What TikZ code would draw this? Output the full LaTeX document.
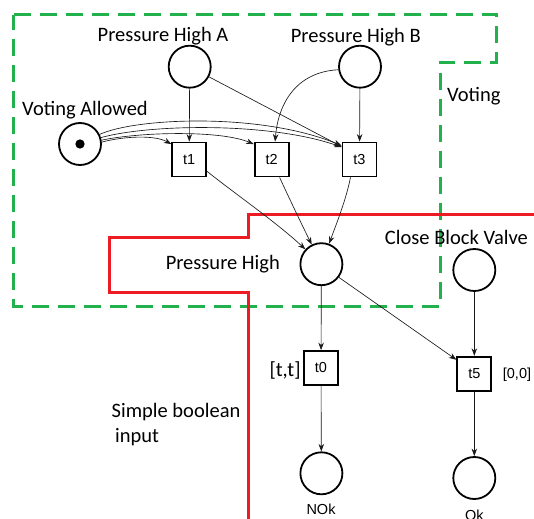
\documentclass[tikz,border=0pt]{standalone}
\usepackage{fontspec}
\setmainfont{Carlito}
\newfontfamily\arialfont{Liberation Sans}
\usetikzlibrary{arrows.meta}
\definecolor{votegreen}{RGB}{34,177,76}
\definecolor{boolred}{RGB}{237,28,36}

\begin{document}
\begin{tikzpicture}[x=1pt,y=-1pt,
  place/.style={circle,draw,line width=1.8pt,minimum size=42pt,inner sep=0pt},
  trans/.style={rectangle,draw,line width=1.8pt,minimum size=34pt,inner sep=0pt,
    font=\arialfont\fontsize{14.5}{16}\selectfont},
  arc/.style={line width=0.65pt,draw=black!90,-{Stealth[length=7.5pt,width=5.5pt]}},
  lbl/.style={font=\fontsize{20.5}{25}\selectfont,inner sep=0pt},
  small/.style={font=\arialfont\fontsize{14.5}{16}\selectfont,inner sep=0pt},
  votingzone/.style={draw=votegreen,line width=3pt,dash pattern=on 17pt off 9pt},
  boolzone/.style={draw=boolred,line width=3pt}
]
\useasboundingbox (0,0) rectangle (534,518);
\fill[white] (0,0) rectangle (534,518);

% zones
\draw[votingzone] (13.5,15) -- (496.5,15) -- (496.5,62.3) -- (440,62.3)
  -- (440,306.7) -- (13.5,306.7) -- cycle;
\draw[boolzone] (540,214.3) -- (248,214.3) -- (248,237.3) -- (109,237.3)
  -- (109,292.3) -- (248,292.3) -- (248,525);

% places
\node[place] (pha) at (189.7,66.7) {};
\node[place] (phb) at (360,66.7) {};
\node[place] (va) at (80,144) {};
\node[circle,fill,inner sep=0pt,minimum size=9.3pt] (tok) at (va) {};
\node[place] (ph) at (321.4,264.2) {};
\node[place] (cbv) at (474.3,270) {};
\node[place] (nok) at (321.4,473.3) {};
\node[place] (ok) at (474.3,478) {};

% transitions
\node[trans] (t1) at (189.2,159.5) {t1};
\node[trans] (t2) at (271.6,159.5) {t2};
\node[trans] (t3) at (359.5,159.5) {t3};
\node[trans] (t0) at (321,368) {t0};
\node[trans] (t5) at (474.3,373.7) {t5};

% labels
\node[lbl] (lpha) at (163,36) {Pressure High A};
\node[lbl] (lphb) at (355.8,37) {Pressure High B};
\node[lbl] (lva) at (85,110) {Voting Allowed};
\node[lbl] (lvot) at (473.8,96) {Voting};
\node[lbl] (lph) at (222.8,264) {Pressure High};
\node[lbl] (lcbv) at (456.4,237) {Close Block Valve};
\node[lbl] (ltt) at (285,370) {[t,t]};
\node[small] (l00) at (517,375) {[0,0]};
\node[lbl,anchor=west,align=left] (lsbi) at (111.5,424.2) {Simple boolean\\\hspace{3.4pt}input};
\node[small] (lnok) at (321,509.5) {NOk};
\node[small] (lok) at (474.3,515.5) {Ok};

% arcs
\draw[arc] (pha) -- (t1);
\draw[arc] (pha) -- ([yshift=-5pt]t3.north west);
\draw[arc] (phb) -- (t3);
\draw[arc] (phb.188) .. controls (295,72) and (278,105) .. ([xshift=3.5pt]t2.north);
\draw[arc] (va.26) .. controls (135,118) and (260,112) .. ([yshift=-4pt]t3.north west);
\draw[arc] (va.17) .. controls (150,124) and (270,122) .. ([yshift=-5.5pt]t3.north west);
\draw[arc] (va.10) .. controls (140,132) and (220,130) .. ([yshift=-2.5pt]t2.north west);
\draw[arc] (va.5) .. controls (125,136) and (155,135) .. ([yshift=-2.5pt]t1.north west);
\draw[arc] ([yshift=6pt]t1.south east) .. controls (234,193) and (276,222) .. (ph);
\draw[arc] ([xshift=8pt]t2.south) .. controls (290,200) and (302,225) .. (ph);
\draw[arc] ([xshift=-9pt]t3.south) .. controls (346,200) and (336,225) .. (ph);
\draw[arc] (ph) -- (t0);
\draw[arc] (ph.-37) -- ([yshift=-4pt]t5.north west);
\draw[arc] (cbv) -- (t5);
\draw[arc] (t0) -- (nok);
\draw[arc] (t5) -- (ok);
\end{tikzpicture}
\end{document}
